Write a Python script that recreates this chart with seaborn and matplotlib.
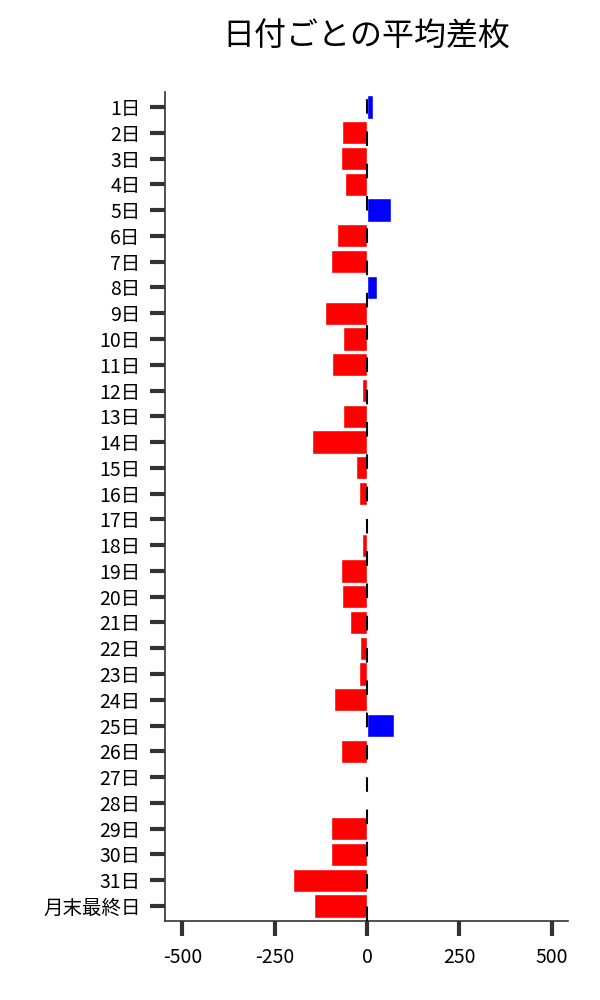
import pandas as pd
import seaborn as sns
import matplotlib.pyplot as plt

# -----------------------------
# Data: average difference per day
# -----------------------------
days = [f"{i}日" for i in range(1, 32)] + ["月末最終日"]
avg_diff = [15, -68, -71, -60, 64, -82, -98, 26, -114, -65, -95,
            -14, -65, -149, -30, -22, 1, -14, -71, -68, -46, -19,
            -22, -90, 73, -71, 1.5, 3, -98, -98, -201, -144]

df = pd.DataFrame({"day": days, "diff": avg_diff})
colors = ["blue" if v > 0 else "red" for v in df["diff"]]

sns.set_style("ticks")
plt.rcParams["font.family"] = ["Noto Sans CJK JP", "DejaVu Sans"]
plt.rcParams["axes.unicode_minus"] = False
plt.rcParams["text.color"] = "black"
plt.rcParams["xtick.labelcolor"] = "black"
plt.rcParams["ytick.labelcolor"] = "black"

fig = plt.figure(figsize=(6, 10), dpi=100)
ax = fig.add_axes([0.275, 0.079, 0.672, 0.829])

sns.barplot(data=df, x="diff", y="day", hue="day", palette=colors,
            legend=False, width=0.9, saturation=1, ax=ax)

ax.axvline(0, color="black", linewidth=1.5, linestyle=(0, (7, 8.5)), zorder=5)

ax.set_xlim(-547, 545)
ax.set_ylim(len(days) - 1 + 0.58, -0.58)
ax.set_xticks([-500, -250, 0, 250, 500])
ax.set_xlabel("")
ax.set_ylabel("")
ax.set_title("日付ごとの平均差枚", fontsize=23, pad=33, color="black")

ax.tick_params(axis="both", length=10.5, width=3, color="#333333",
               labelsize=14, pad=7)
ax.tick_params(axis="x", pad=8)
sns.despine(ax=ax)
for s in ["left", "bottom"]:
    ax.spines[s].set_color("#333333")
    ax.spines[s].set_linewidth(1.2)

plt.savefig("out.png", dpi=100)
